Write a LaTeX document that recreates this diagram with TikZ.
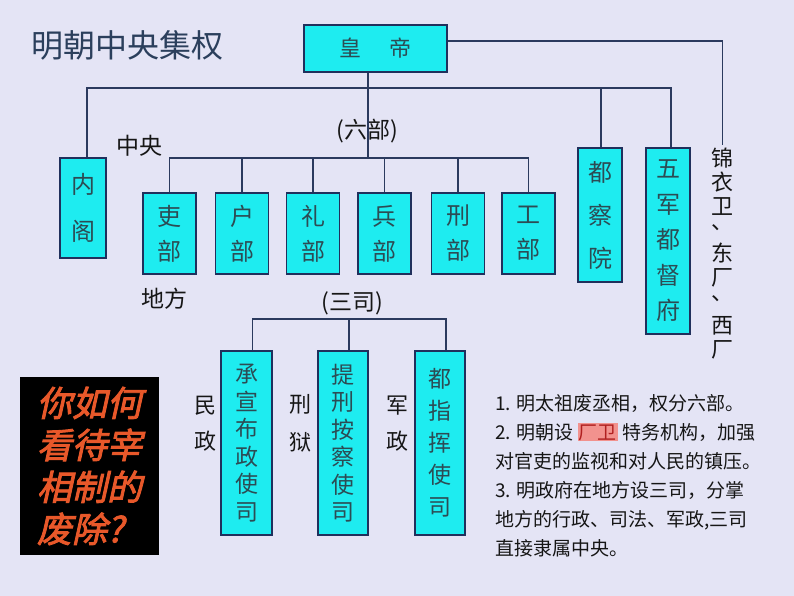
\documentclass[tikz,border=0pt]{standalone}
\usepackage{fontspec}
\setmainfont{Noto Sans CJK SC}
\newfontfamily\cjkq[FakeSlant=0.22,FakeBold=2.5]{Noto Sans CJK SC}
\definecolor{bgc}{RGB}{228,228,245}
\definecolor{boxfill}{RGB}{30,236,240}
\definecolor{boxline}{RGB}{32,48,92}
\definecolor{linkc}{RGB}{43,58,94}
\definecolor{boxtext}{RGB}{44,76,84}
\definecolor{titlec}{RGB}{43,63,92}
\definecolor{qred}{RGB}{232,88,42}
\definecolor{hlfill}{RGB}{242,146,142}
\definecolor{hltext}{RGB}{176,32,32}
\definecolor{labc}{RGB}{22,22,22}
\newcommand{\vdun}{\raisebox{9pt}{、}}
\tikzset{
  box/.style={draw=boxline, line width=1.2pt, fill=boxfill, inner sep=0pt, text=boxtext, align=center},
  link/.style={draw=linkc, line width=1.1pt},
  lbl/.style={text=labc, inner sep=0pt, align=center},
  para/.style={text=labc, inner sep=0pt, anchor=base west, font=\fontsize{19}{29}\selectfont}
}
\begin{document}
\begin{tikzpicture}[x=1pt,y=-1pt]
\fill[bgc] (0,0) rectangle (794,596);
\useasboundingbox (0,0) rectangle (794,596);

% title
\node[text=titlec, inner sep=0pt, font=\fontsize{32}{32}\selectfont] (title) at (127.5,45) {明朝中央集权};

% emperor
\node[box, minimum width=143pt, minimum height=47pt, font=\fontsize{22}{22}\selectfont] (emp) at (375.5,48.5) {皇\hspace{28pt}帝};

% central organs
\node[box, minimum width=46pt, minimum height=100pt, font=\fontsize{24}{47}\selectfont] (neige) at (83,208) {内\\阁};
\node[box, minimum width=53pt, minimum height=81pt, font=\fontsize{24}{35}\selectfont] (li) at (169.5,233.5) {吏\\部};
\node[box, minimum width=53pt, minimum height=81pt, font=\fontsize{24}{35}\selectfont] (hu) at (242,233.5) {户\\部};
\node[box, minimum width=53pt, minimum height=81pt, font=\fontsize{24}{35}\selectfont] (lii) at (313,233.5) {礼\\部};
\node[box, minimum width=53pt, minimum height=81pt, font=\fontsize{24}{35}\selectfont] (bing) at (384.5,233.5) {兵\\部};
\node[box, minimum width=53pt, minimum height=81pt, font=\fontsize{24}{35}\selectfont] (xing) at (458,233.5) {刑\\部};
\node[box, minimum width=53pt, minimum height=81pt, font=\fontsize{24}{35}\selectfont] (gong) at (528.5,233.5) {工\\部};
\node[box, minimum width=44pt, minimum height=134pt, font=\fontsize{24}{43}\selectfont] (dcy) at (600,215) {都\\察\\院};
\node[box, minimum width=44pt, minimum height=186pt, font=\fontsize{24}{35.5}\selectfont] (wj) at (668,241) {五\\军\\都\\督\\府};
\node[lbl, anchor=north, font=\fontsize{22}{23.8}\selectfont] (jy) at (722.5,148) {锦\\衣\\卫\\\vdun\\东\\厂\\\vdun\\西\\厂};

% labels
\node[lbl, font=\fontsize{23}{23}\selectfont] (zy) at (139,146) {中央};
\node[lbl, font=\fontsize{23}{23}\selectfont] (df) at (164,299) {地方};
\node[lbl, font=\fontsize{23}{23}\selectfont] (lb) at (367,131) {(六部)};
\node[lbl, font=\fontsize{23}{23}\selectfont] (ss) at (352,303) {(三司)};

% local three offices
\node[box, minimum width=51pt, minimum height=184pt, font=\fontsize{23}{27.5}\selectfont] (csb) at (246.5,443) {承\\宣\\布\\政\\使\\司};
\node[box, minimum width=50pt, minimum height=184pt, font=\fontsize{23}{27.5}\selectfont] (tx) at (343,443) {提\\刑\\按\\察\\使\\司};
\node[box, minimum width=50pt, minimum height=184pt, font=\fontsize{23}{32}\selectfont] (dz) at (440,443) {都\\指\\挥\\使\\司};
\node[lbl, font=\fontsize{22}{36}\selectfont] (mz) at (205,424) {民\\政};
\node[lbl, font=\fontsize{22}{38}\selectfont] (xy) at (300,423) {刑\\狱};
\node[lbl, font=\fontsize{22}{36}\selectfont] (jz) at (397,424) {军\\政};

% connectors
\coordinate (bar1) at (0,88);
\coordinate (bar6) at (0,158);
\coordinate (bar3) at (0,319);
\draw[link] ([xshift=4pt]neige.north) |- ([xshift=3pt]wj.north |- bar1) -- ([xshift=3pt]wj.north);
\draw[link] ([xshift=1pt]dcy.north) -- ([xshift=1pt]dcy.north |- bar1);
\draw[link] ([xshift=-7.5pt]emp.south) -- ([xshift=-7.5pt]emp.south |- bar6);
\draw[link] (li.north) |- (gong.north |- bar6) -- (gong.north);
\foreach \n in {hu,lii,bing,xing} \draw[link] (\n.north) -- (\n.north |- bar6);
\draw[link] ([yshift=7.5pt]emp.east) -| ([yshift=3pt]jy.north);
\draw[link] ([xshift=6pt]csb.north) |- ([xshift=6pt]dz.north |- bar3) -- ([xshift=6pt]dz.north);
\draw[link] ([xshift=6pt]tx.north) -- ([xshift=6pt]tx.north |- bar3);

% question box
\node[fill=black, minimum width=139pt, minimum height=178pt, inner sep=0pt] (qb) at (89.5,466) {};
\node[text=qred, inner sep=0pt, align=left, font=\cjkq\fontsize{35}{42}\selectfont] (qt) at (qb.center) {你如何\\看待宰\\相制的\\废除?};

% notes
\node[para] (p1) at (495,410) {1. 明太祖废丞相，权分六部。};
\node[para] (p2) at (495,439) {2. 明朝设 {\setlength{\fboxsep}{1pt}\colorbox{hlfill}{\textcolor{hltext}{厂卫}}} 特务机构，加强};
\node[para] (p3) at (495,468) {对官吏的监视和对人民的镇压。};
\node[para] (p4) at (495,497) {3. 明政府在地方设三司，分掌};
\node[para] (p5) at (495,526) {地方的行政、司法、军政,三司};
\node[para] (p6) at (495,555) {直接隶属中央。};
\end{tikzpicture}
\end{document}
